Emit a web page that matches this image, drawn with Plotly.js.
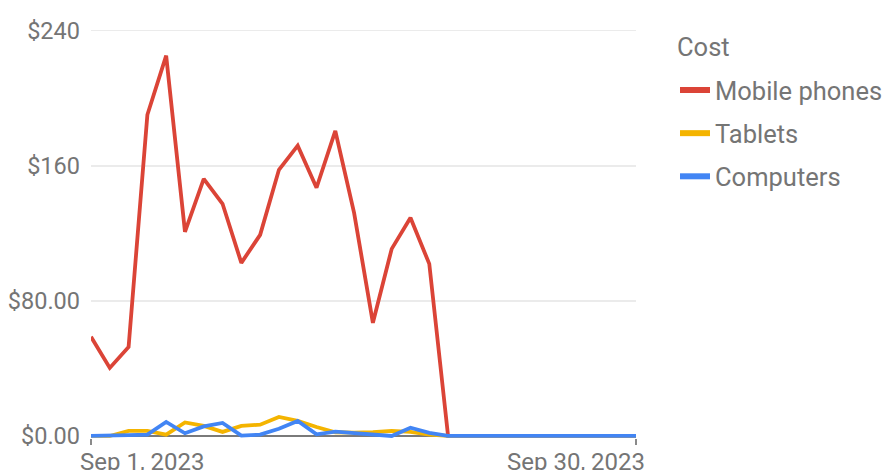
<!DOCTYPE html>
<html>
<head>
<meta charset="utf-8">
<script src="https://cdn.plot.ly/plotly-3.0.1.min.js"></script>
<style>
  html, body { margin: 0; padding: 0; background: #fff; }
  #chart { width: 891px; height: 470px; }
</style>
</head>
<body>
<div id="chart"></div>
<script>
// ---- Data ----
var dates = [
  "2023-09-01","2023-09-02","2023-09-03","2023-09-04","2023-09-05",
  "2023-09-06","2023-09-07","2023-09-08","2023-09-09","2023-09-10",
  "2023-09-11","2023-09-12","2023-09-13","2023-09-14","2023-09-15",
  "2023-09-16","2023-09-17","2023-09-18","2023-09-19","2023-09-20",
  "2023-09-21","2023-09-22","2023-09-23","2023-09-24","2023-09-25",
  "2023-09-26","2023-09-27","2023-09-28","2023-09-29","2023-09-30"
];
var mobilePhones = [58.7, 40.3, 52.7, 190.2, 225.2, 120.9, 152.3, 137.5, 102.5, 119.1,
                    157.6, 171.9, 147.0, 180.7, 132.1, 67.0, 110.8, 129.2, 101.9, 0,
                    0, 0, 0, 0, 0, 0, 0, 0, 0, 0];
var tablets = [0, 0, 3.0, 3.0, 0.8, 8.0, 6.0, 2.4, 6.0, 6.7,
               11.3, 8.9, 5.3, 2.2, 2.0, 2.2, 3.0, 2.4, 0.8, 0,
               0, 0, 0, 0, 0, 0, 0, 0, 0, 0];
var computers = [0, 0, 0.5, 0.8, 8.3, 1.6, 5.7, 7.7, 0.2, 0.8,
                 4.3, 8.9, 1.0, 2.6, 1.8, 0.8, 0, 4.9, 1.8, 0,
                 0, 0, 0, 0, 0, 0, 0, 0, 0, 0];
var seriesNames = ["Mobile phones", "Tablets", "Computers"];
var legendTitle = "Cost";
var yTickVals = [0, 80, 160, 240];
var yTickText = ["$0.00", "$80.00", "$160", "$240"];
var xTickVals = ["2023-09-01", "2023-09-30"];
var xTickText = ["Sep 1, 2023", "Sep 30, 2023"];

// ---- Styling ----
var colors = ["#db4437", "#f4b400", "#4285f4"];
var textColor = "#757575";
var fontFamily = "Roboto, 'Noto Sans', sans-serif";

var seriesValues = [mobilePhones, tablets, computers];
var traces = seriesValues.map(function (vals, i) {
  return {
    type: "scatter",
    mode: "lines",
    x: dates,
    y: vals,
    name: seriesNames[i],
    showlegend: false,
    line: { color: colors[i], width: 3.8 },
    hoverinfo: "skip"
  };
});
// legend entries (thicker swatches, like the reference)
seriesNames.forEach(function (name, i) {
  traces.push({
    type: "scatter",
    mode: "lines",
    x: [null],
    y: [null],
    name: name,
    legendgroup: "g" + i,
    showlegend: true,
    line: { color: colors[i], width: 6 },
    hoverinfo: "skip"
  });
});

var annotations = [
  {
    x: xTickVals[0], xref: "x", y: 0, yref: "paper",
    text: xTickText[0], showarrow: false,
    xanchor: "left", yanchor: "top", xshift: -13, yshift: -8,
    font: { family: fontFamily, size: 24, color: textColor }
  },
  {
    x: xTickVals[1], xref: "x", y: 0, yref: "paper",
    text: xTickText[1], showarrow: false,
    xanchor: "right", yanchor: "top", xshift: 11, yshift: -8,
    font: { family: fontFamily, size: 24, color: textColor }
  },
  {
    // legend title
    x: 1.0752, xref: "paper", y: 0.956, yref: "paper",
    text: legendTitle, showarrow: false,
    xanchor: "left", yanchor: "middle", xshift: -2,
    font: { family: fontFamily, size: 25.5, color: textColor }
  }
];

var layout = {
  width: 891,
  height: 470,
  paper_bgcolor: "#ffffff",
  plot_bgcolor: "#ffffff",
  margin: { l: 91, r: 255, t: 29, b: 32, pad: 0 },
  font: { family: fontFamily, size: 24, color: textColor },
  showlegend: true,
  legend: {
    font: { family: fontFamily, size: 25.5, color: textColor },
    xref: "container", yref: "container",
    x: 0.7576, y: 0.8576,
    xanchor: "left", yanchor: "top",
    bgcolor: "rgba(0,0,0,0)",
    tracegroupgap: 7,
    itemwidth: 30
  },
  xaxis: {
    type: "date",
    range: ["2023-09-01", "2023-09-30"],
    tickvals: xTickVals,
    showticklabels: false,
    ticks: "outside",
    ticklen: 6,
    tickwidth: 1.5,
    tickcolor: "#8a8a8a",
    showgrid: false,
    zeroline: false,
    showline: false,
    fixedrange: true
  },
  yaxis: {
    range: [-1.2, 241],
    tickvals: yTickVals,
    ticktext: yTickText,
    ticks: "",
    ticklabelstandoff: 10,
    showgrid: true,
    gridcolor: "#ebebeb",
    gridwidth: 1.5,
    zeroline: true,
    zerolinecolor: "#7a7a7a",
    zerolinewidth: 1.5,
    showline: false,
    tickfont: { family: fontFamily, size: 23.5, color: textColor },
    fixedrange: true
  },
  annotations: annotations
};

Plotly.newPlot("chart", traces, layout, { displayModeBar: false, staticPlot: true });
</script>
</body>
</html>
